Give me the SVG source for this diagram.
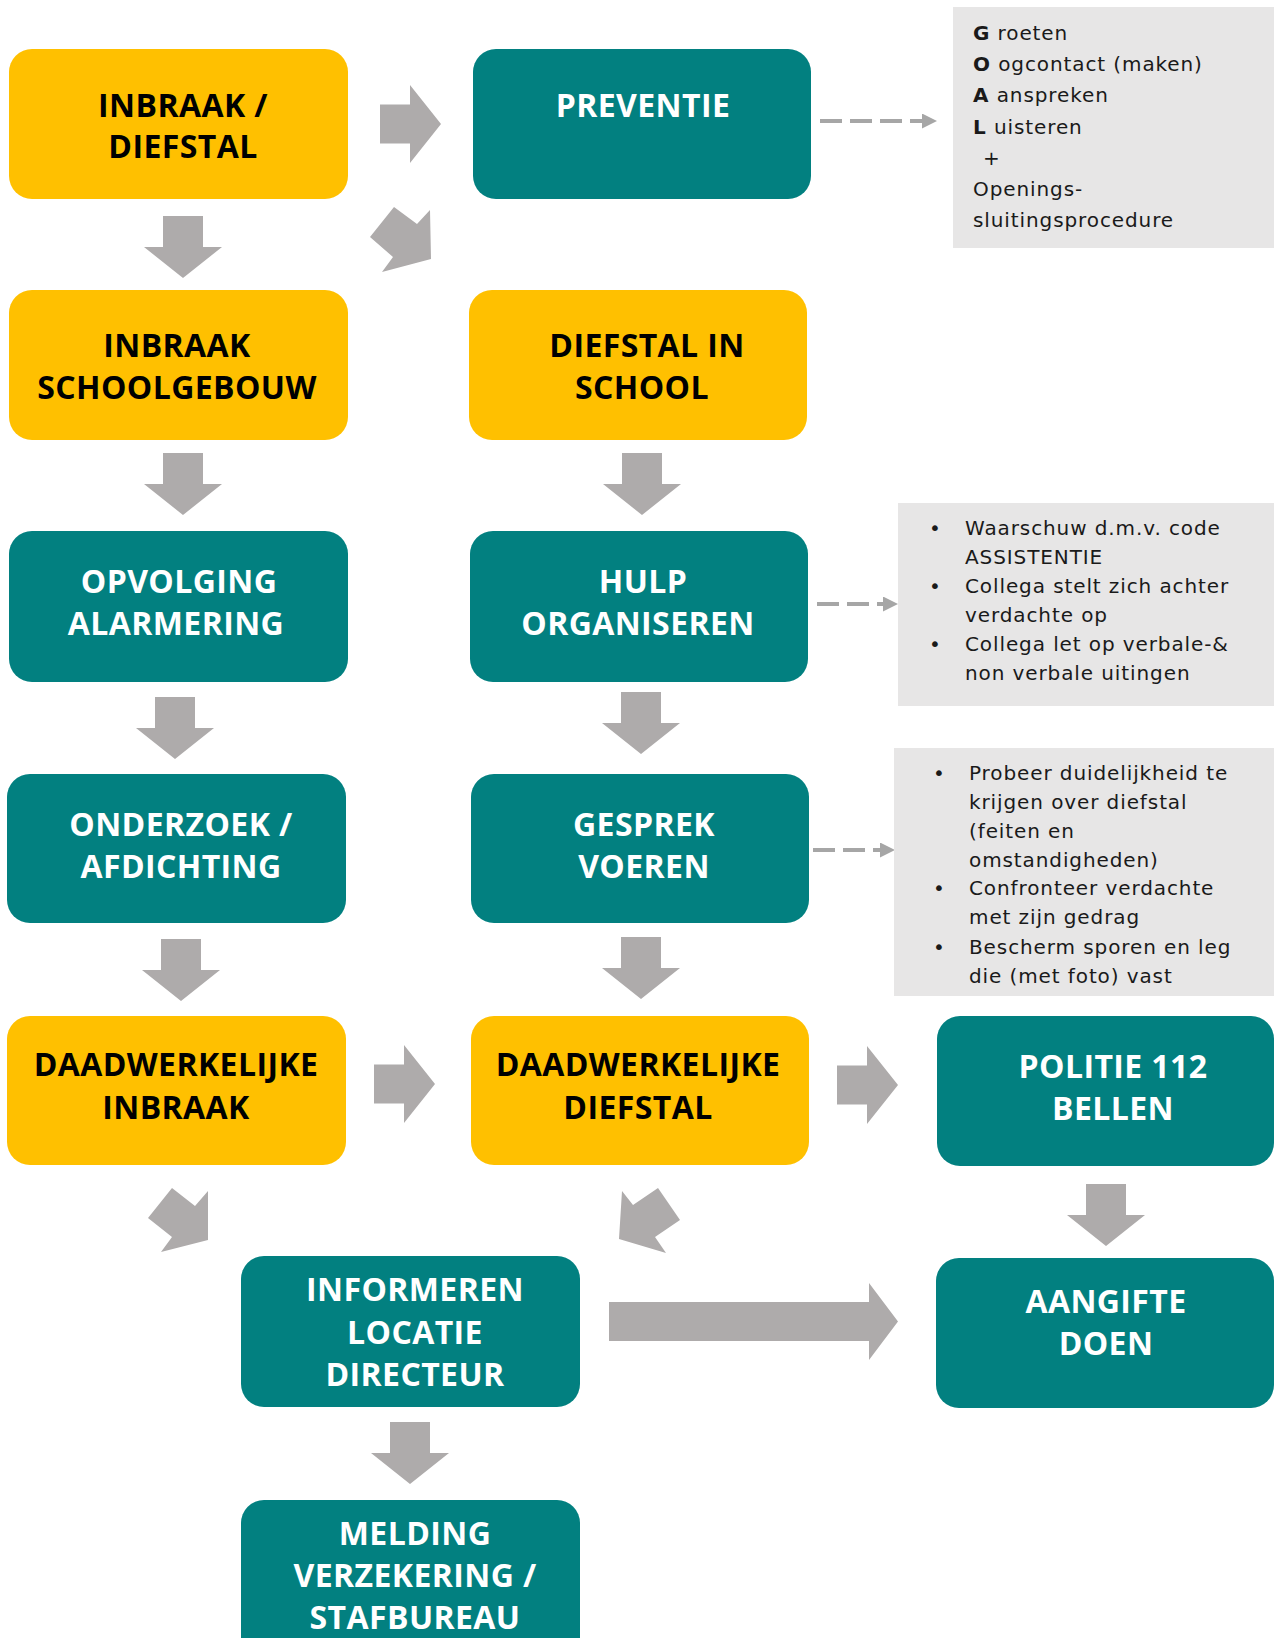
<svg xmlns="http://www.w3.org/2000/svg" width="1274" height="1638" viewBox="0 0 1274 1638">
<style>
.y{fill:#FFC000}
.t{fill:#028080}
.nt{font-family:"Open Sans","Liberation Sans",sans-serif;font-weight:700;font-size:32px;letter-spacing:0.4px;text-anchor:middle}
.dk{fill:#000}
.lt{fill:#fff}
.box{fill:#E7E6E6}
.note{font-family:"DejaVu Sans",sans-serif;font-size:20px;letter-spacing:0.9px;fill:#1a1a1a}
.b{font-weight:700}
.arr{fill:#AEABAB}
.dash{stroke:#A6A6A6;stroke-width:4;stroke-dasharray:22 8;fill:none}
</style>
<defs>
<path id="down" d="M-20,0 H20 V31 H39 L0,62 L-39,31 H-20 Z"/>
<path id="right" d="M0,-19.5 H30 V-39 L61,0 L30,39 V19.5 H0 Z"/>
<marker id="head" markerUnits="userSpaceOnUse" markerWidth="16" markerHeight="16" refX="0" refY="7.5" orient="auto">
<path d="M0,0 L15,7.5 L0,15 Z" fill="#A6A6A6"/>
</marker>
</defs>

<g id="connectors">
<g class="arr">
<use href="#down" x="183" y="216"/>
<use href="#down" x="183" y="453"/>
<use href="#down" x="175" y="697"/>
<use href="#down" x="181" y="939"/>
<use href="#down" x="642" y="453"/>
<use href="#down" x="641" y="692"/>
<use href="#down" x="641" y="937"/>
<use href="#down" x="1106" y="1184"/>
<use href="#down" x="410" y="1422"/>
<use href="#right" x="380" y="124"/>
<use href="#right" x="374" y="1084"/>
<use href="#right" x="837" y="1085"/>
<polygon points="370,237 394,207 417,224 430,210 431,259 382,272 393,257"/>
<polygon points="148,1218 172,1188 195,1206 208,1191 208,1240 161,1252 172,1237"/>
<polygon points="622,1191 633,1205 658,1188 680,1220 655,1237 666,1253 619,1239"/>
<path d="M609,1302 H869 V1283 L898,1321.5 L869,1360 V1341 H609 Z"/>
</g>
<line class="dash" x1="820" y1="121" x2="922" y2="121" marker-end="url(#head)"/>
<line class="dash" x1="817" y1="604" x2="883" y2="604" marker-end="url(#head)"/>
<line class="dash" x1="813" y1="850" x2="880" y2="850" marker-end="url(#head)"/>
</g>

<g id="node-inbraak-diefstal">
<rect class="y" x="9" y="49" width="339" height="150" rx="23"/>
<text class="nt dk"><tspan x="183" y="117">INBRAAK /</tspan><tspan x="183" y="158">DIEFSTAL</tspan></text>
</g>
<g id="node-preventie">
<rect class="t" x="473" y="49" width="338" height="150" rx="23"/>
<text class="nt lt" x="643" y="117">PREVENTIE</text>
</g>
<g id="note-goal">
<rect class="box" x="953" y="7" width="321" height="241"/>
<text class="note"><tspan x="973" y="40"><tspan class="b">G</tspan> roeten</tspan><tspan x="973" y="71"><tspan class="b">O</tspan> ogcontact (maken)</tspan><tspan x="973" y="102"><tspan class="b">A</tspan> anspreken</tspan><tspan x="973" y="134"><tspan class="b">L</tspan> uisteren</tspan><tspan x="983" y="165">+</tspan><tspan x="973" y="196">Openings-</tspan><tspan x="973" y="227">sluitingsprocedure</tspan></text>
</g>

<g id="node-inbraak-schoolgebouw">
<rect class="y" x="9" y="290" width="339" height="150" rx="23"/>
<text class="nt dk"><tspan x="177" y="357">INBRAAK</tspan><tspan x="177" y="399">SCHOOLGEBOUW</tspan></text>
</g>
<g id="node-diefstal-in-school">
<rect class="y" x="469" y="290" width="338" height="150" rx="23"/>
<text class="nt dk"><tspan x="647" y="357">DIEFSTAL IN</tspan><tspan x="642" y="399">SCHOOL</tspan></text>
</g>

<g id="node-opvolging">
<rect class="t" x="9" y="531" width="339" height="151" rx="23"/>
<text class="nt lt"><tspan x="179" y="593">OPVOLGING</tspan><tspan x="176" y="635">ALARMERING</tspan></text>
</g>
<g id="node-hulp">
<rect class="t" x="470" y="531" width="338" height="151" rx="23"/>
<text class="nt lt"><tspan x="643" y="593">HULP</tspan><tspan x="638" y="635">ORGANISEREN</tspan></text>
</g>
<g id="note-hulp">
<rect class="box" x="898" y="503" width="376" height="203"/>
<text class="note"><tspan x="929" y="535">•</tspan><tspan x="965" y="535">Waarschuw d.m.v. code</tspan><tspan x="965" y="564">ASSISTENTIE</tspan><tspan x="929" y="593">•</tspan><tspan x="965" y="593">Collega stelt zich achter</tspan><tspan x="965" y="622">verdachte op</tspan><tspan x="929" y="651">•</tspan><tspan x="965" y="651">Collega let op verbale-&amp;</tspan><tspan x="965" y="680">non verbale uitingen</tspan></text>
</g>

<g id="node-onderzoek">
<rect class="t" x="7" y="774" width="339" height="149" rx="23"/>
<text class="nt lt"><tspan x="181" y="836">ONDERZOEK /</tspan><tspan x="181" y="878">AFDICHTING</tspan></text>
</g>
<g id="node-gesprek">
<rect class="t" x="471" y="774" width="338" height="149" rx="23"/>
<text class="nt lt"><tspan x="644" y="836">GESPREK</tspan><tspan x="644" y="878">VOEREN</tspan></text>
</g>
<g id="note-gesprek">
<rect class="box" x="894" y="748" width="380" height="248"/>
<text class="note"><tspan x="933" y="780">•</tspan><tspan x="969" y="780">Probeer duidelijkheid te</tspan><tspan x="969" y="809">krijgen over diefstal</tspan><tspan x="969" y="838">(feiten en</tspan><tspan x="969" y="867">omstandigheden)</tspan><tspan x="933" y="895">•</tspan><tspan x="969" y="895">Confronteer verdachte</tspan><tspan x="969" y="924">met zijn gedrag</tspan><tspan x="933" y="954">•</tspan><tspan x="969" y="954">Bescherm sporen en leg</tspan><tspan x="969" y="983">die (met foto) vast</tspan></text>
</g>

<g id="node-daadwerkelijke-inbraak">
<rect class="y" x="7" y="1016" width="339" height="149" rx="23"/>
<text class="nt dk"><tspan x="176" y="1076">DAADWERKELIJKE</tspan><tspan x="176" y="1119">INBRAAK</tspan></text>
</g>
<g id="node-daadwerkelijke-diefstal">
<rect class="y" x="471" y="1016" width="338" height="149" rx="23"/>
<text class="nt dk"><tspan x="638" y="1076">DAADWERKELIJKE</tspan><tspan x="638" y="1119">DIEFSTAL</tspan></text>
</g>
<g id="node-politie">
<rect class="t" x="937" y="1016" width="337" height="150" rx="23"/>
<text class="nt lt"><tspan x="1113" y="1078">POLITIE 112</tspan><tspan x="1113" y="1120">BELLEN</tspan></text>
</g>

<g id="node-informeren">
<rect class="t" x="241" y="1256" width="339" height="151" rx="23"/>
<text class="nt lt"><tspan x="415" y="1301">INFORMEREN</tspan><tspan x="415" y="1344">LOCATIE</tspan><tspan x="415" y="1386">DIRECTEUR</tspan></text>
</g>
<g id="node-aangifte">
<rect class="t" x="936" y="1258" width="338" height="150" rx="23"/>
<text class="nt lt"><tspan x="1106" y="1313">AANGIFTE</tspan><tspan x="1106" y="1355">DOEN</tspan></text>
</g>
<g id="node-melding">
<rect class="t" x="241" y="1500" width="339" height="160" rx="23"/>
<text class="nt lt"><tspan x="415" y="1545">MELDING</tspan><tspan x="415" y="1587">VERZEKERING /</tspan><tspan x="415" y="1629">STAFBUREAU</tspan></text>
</g>
</svg>
